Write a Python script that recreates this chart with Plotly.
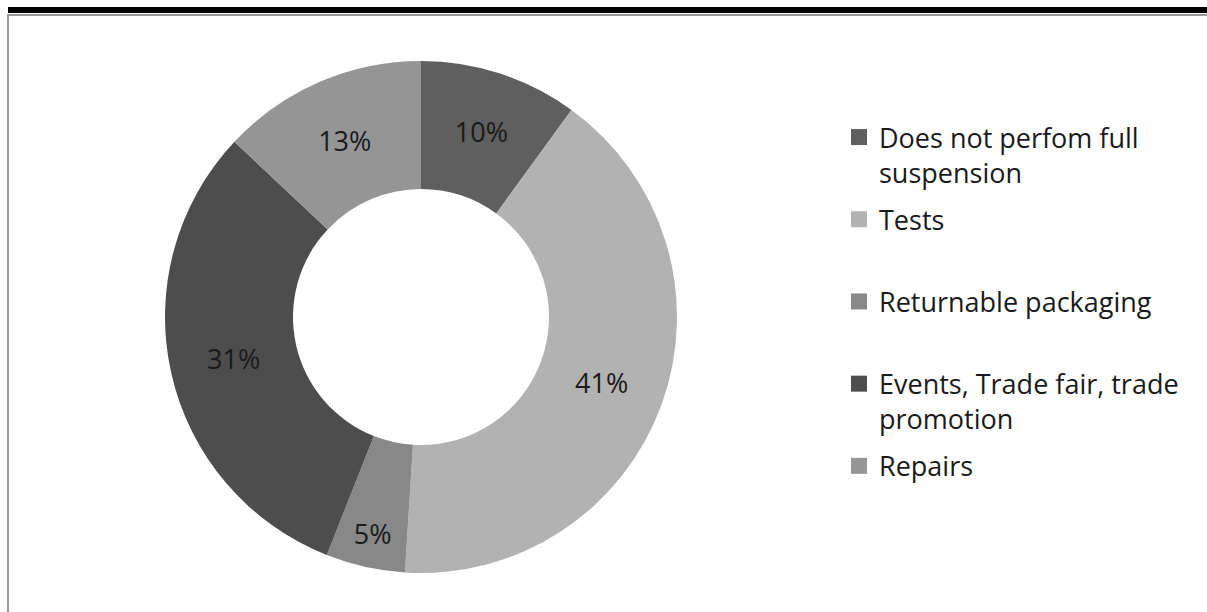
import plotly.graph_objects as go

# Share of answers per category
categories = [
    "Does not perfom full<br>suspension",
    "Tests<br> ",
    "Returnable packaging<br> ",
    "Events, Trade fair, trade<br>promotion",
    "Repairs<br> ",
]
shares = [10, 41, 5, 31, 13]
slice_colors = ["#5f5f5f", "#b2b2b2", "#888888", "#4d4d4d", "#959595"]

W, H = 1207, 612
cx, cy, r = 421, 317, 256  # donut centre and radius in pixels

fig = go.Figure(
    go.Pie(
        labels=categories,
        values=shares,
        hole=0.5,
        sort=False,
        direction="clockwise",
        rotation=0,
        marker=dict(colors=slice_colors, line=dict(width=0)),
        texttemplate="%{value}%",
        textposition="inside",
        insidetextorientation="horizontal",
        textfont=dict(family="Open Sans", size=27, color="#1a1a1a"),
        domain=dict(
            x=[(cx - r) / W, (cx + r) / W],
            y=[(H - cy - r) / H, (H - cy + r) / H],
        ),
        showlegend=False,
    )
)

# legend entries: one square marker per category, each in its own group
for name, color in zip(categories, slice_colors):
    fig.add_trace(
        go.Scatter(
            x=[None], y=[None], mode="markers", name=name,
            legendgroup=name,
            marker=dict(symbol="square", size=16, color=color),
        )
    )

# heading rule and chart frame
fig.add_shape(type="line", xref="paper", yref="paper",
              x0=8 / W, x1=1, y0=1 - 10 / H, y1=1 - 10 / H,
              line=dict(color="black", width=6))
fig.add_shape(type="line", xref="paper", yref="paper",
              x0=7 / W, x1=1, y0=1 - 15 / H, y1=1 - 15 / H,
              line=dict(color="#999999", width=2))
fig.add_shape(type="line", xref="paper", yref="paper",
              x0=8 / W, x1=8 / W, y0=0, y1=1 - 15 / H,
              line=dict(color="#999999", width=2))

fig.update_layout(
    width=W,
    height=H,
    margin=dict(l=0, r=0, t=0, b=0),
    paper_bgcolor="white",
    plot_bgcolor="white",
    font=dict(family="Open Sans", color="#1a1a1a"),
    xaxis=dict(visible=False),
    yaxis=dict(visible=False),
    legend=dict(
        x=839 / W,
        y=1 - 113 / H,
        xanchor="left",
        yanchor="top",
        valign="top",
        traceorder="grouped",
        tracegroupgap=9,
        font=dict(family="Open Sans", size=27, color="#1a1a1a"),
        bgcolor="rgba(0,0,0,0)",
    ),
)

fig.write_html("out.html")
